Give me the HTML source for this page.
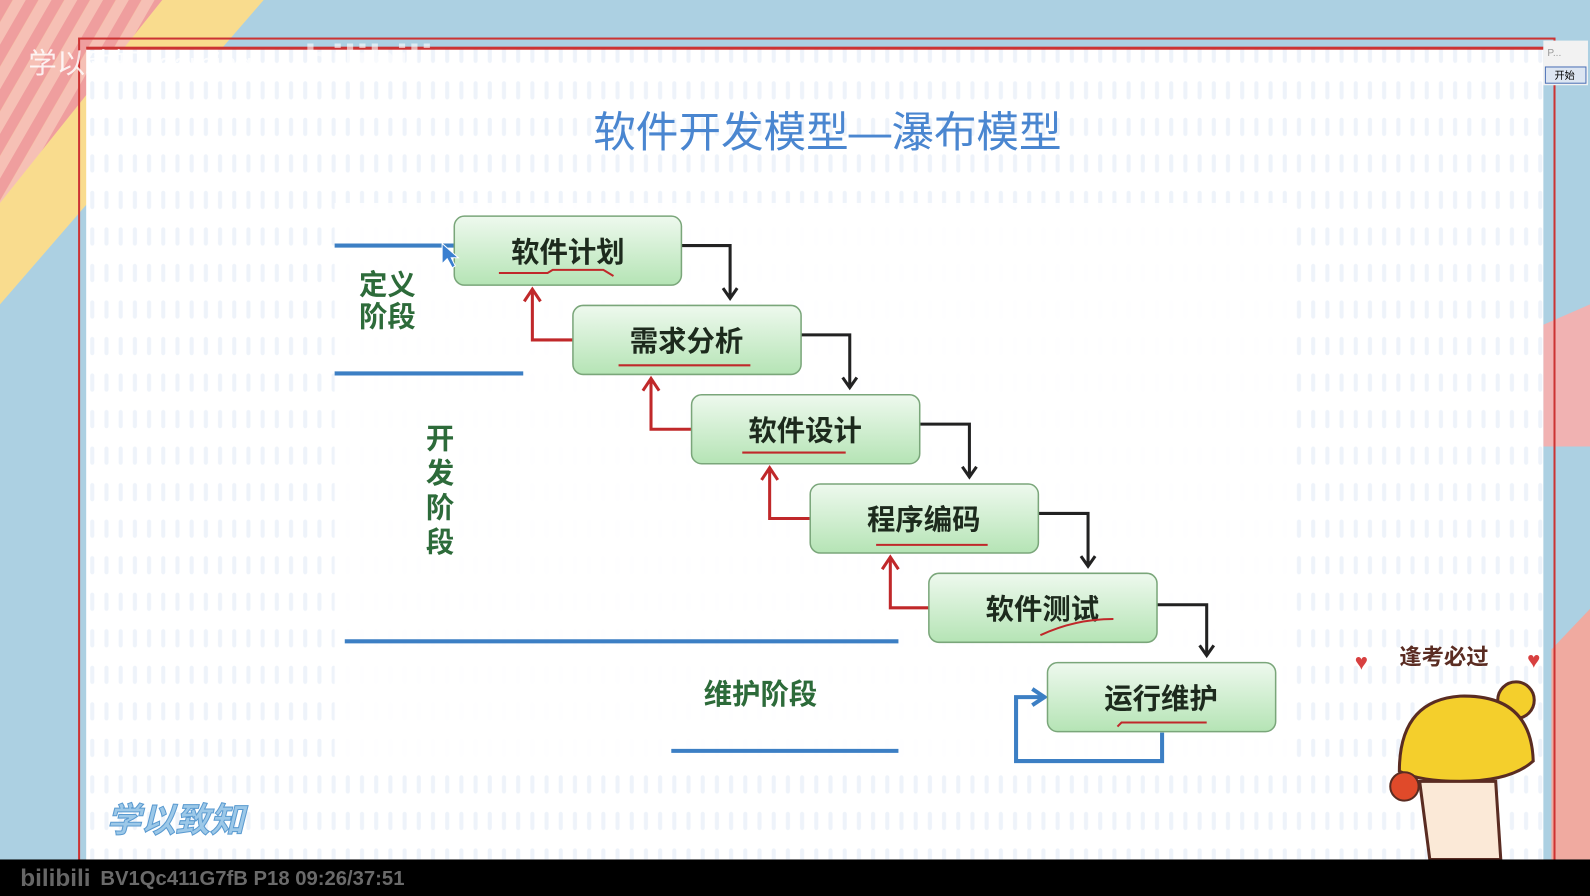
<!DOCTYPE html>
<html><head><meta charset="utf-8"><style>
html,body{margin:0;padding:0;background:#000;overflow:hidden}
svg{display:block}
text{font-family:"Liberation Sans","Noto Sans CJK SC",sans-serif}
</style></head><body>
<svg width="1590" height="896" viewBox="0 0 1568 883" preserveAspectRatio="none" xmlns="http://www.w3.org/2000/svg">
<defs>
<linearGradient id="g" x1="0" y1="0" x2="0" y2="1">
<stop offset="0" stop-color="#eef9ee"/><stop offset="1" stop-color="#b5e4b5"/></linearGradient>
<pattern id="dots" width="14" height="36" patternUnits="userSpaceOnUse">
<rect x="5" y="8" width="4" height="18" rx="2" fill="#eef3fa"/></pattern>
<pattern id="str" width="22" height="22" patternUnits="userSpaceOnUse" patternTransform="rotate(30)">
<rect width="11" height="22" fill="#ef9e9e"/><rect x="11" width="11" height="22" fill="#f6c0b5"/></pattern>
</defs>
<rect width="1568" height="883" fill="#acd0e2"/>
<polygon points="0,0 260,0 0,300" fill="#f9dc8e"/>
<polygon points="0,0 160,0 0,200" fill="url(#str)"/>
<polygon points="1522,320 1568,300 1568,440 1522,440" fill="#f1b2b2"/>
<polygon points="1530,640 1568,600 1568,847 1530,847" fill="#f0aaa0"/>
<rect x="78" y="38" width="1455" height="810" fill="none" stroke="#c33" stroke-width="2"/>
<rect x="85" y="48" width="1437" height="799" fill="#fff"/>
<rect x="85" y="48" width="1437" height="799" fill="url(#dots)"/>
<rect x="330" y="200" width="940" height="560" fill="#fff" opacity="0.9"/>
<rect x="85" y="46" width="1437" height="3" fill="#c33"/>
<rect x="1522" y="40" width="44" height="44" fill="#f2f2f2"/>
<rect x="1524" y="66" width="40" height="16" fill="#dde6f2" stroke="#4a6fb5"/>
<text x="1533" y="78" font-size="10" fill="#000">开始</text>
<text x="1526" y="55" font-size="10" fill="#999">P...</text>
<text x="28" y="72" font-size="28" fill="#fff" opacity="0.85">学以致知Learning</text>
<text x="300" y="75" font-size="44" font-weight="bold" fill="#fff" opacity="0.6">bilibili</text>
<text x="585" y="145" font-size="42" fill="#4a86d0">软件开发模型—瀑布模型</text>
<g stroke="#3c7fc4" stroke-width="4" fill="none">
<line x1="330" y1="242" x2="448" y2="242"/><line x1="330" y1="368" x2="516" y2="368"/>
<line x1="340" y1="632" x2="886" y2="632"/><line x1="662" y1="740" x2="886" y2="740"/>
<path d="M1146,722 V750 H1002 V687 H1028"/><path d="M1018,679 L1030,687 L1018,695"/>
</g>
<g font-size="28" font-weight="bold" fill="#2d6b3a">
<text x="354" y="290">定义</text><text x="354" y="322">阶段</text>
<text x="420" y="442">开</text><text x="420" y="476">发</text><text x="420" y="510">阶</text><text x="420" y="544">段</text>
<text x="694" y="694">维护阶段</text>
</g>
<g stroke="#222" stroke-width="3" fill="none">
<path d="M672,242 H720 V293 M713,284 L720,294 L727,284"/>
<path d="M789,330 H838 V381 M831,372 L838,382 L845,372"/>
<path d="M906,418 H956 V469 M949,460 L956,470 L963,460"/>
<path d="M1023,506 H1073 V557 M1066,548 L1073,558 L1080,548"/>
<path d="M1140,596 H1190 V645 M1183,636 L1190,646 L1197,636"/>
</g>
<g stroke="#c0282a" stroke-width="3" fill="none">
<path d="M565,335 H525 V285 M517,297 L525,285 L533,297"/>
<path d="M682,423 H642 V373 M634,385 L642,373 L650,385"/>
<path d="M799,511 H759 V461 M751,473 L759,461 L767,473"/>
<path d="M916,599 H878 V549 M870,561 L878,549 L886,561"/>
</g>
<g stroke="#7aa67a" stroke-width="1.5" fill="url(#g)">
<rect x="448" y="213" width="224" height="68" rx="10"/>
<rect x="565" y="301" width="225" height="68" rx="10"/>
<rect x="682" y="389" width="225" height="68" rx="10"/>
<rect x="799" y="477" width="225" height="68" rx="10"/>
<rect x="916" y="565" width="225" height="68" rx="10"/>
<rect x="1033" y="653" width="225" height="68" rx="10"/>
</g>
<g font-size="28" font-weight="bold" fill="#1d2a1d" text-anchor="middle">
<text x="560" y="258">软件计划</text><text x="677" y="346">需求分析</text>
<text x="794" y="434">软件设计</text><text x="911" y="522">程序编码</text>
<text x="1028" y="610">软件测试</text><text x="1145" y="698">运行维护</text>
</g>
<g stroke="#c0282a" stroke-width="2" fill="none">
<path d="M492,269 H540 L545,266 H595 L605,272"/><path d="M610,360 H740"/>
<path d="M732,446 H834"/><path d="M864,537 H974"/><path d="M1026,626 Q1060,610 1098,610"/>
<path d="M1102,716 L1106,712 H1190"/>
</g>
<path d="M436,240 V260 L441,255 L446,264 L449,262 L445,254 L452,254 Z" fill="#3a7fd0" stroke="#fff"/>
<text x="1380" y="655" font-size="22" font-weight="bold" fill="#5a2c22">逢考必过</text>
<text x="1336" y="660" font-size="22" fill="#d84040">♥</text><text x="1506" y="658" font-size="22" fill="#d84040">♥</text>
<circle cx="1495" cy="690" r="18" fill="#f4cf2c" stroke="#5a2c22" stroke-width="3"/>
<path d="M1380,760 Q1380,690 1440,686 Q1510,684 1512,750 Q1490,770 1440,770 Q1400,770 1380,760Z" fill="#f4cf2c" stroke="#5a2c22" stroke-width="3"/>
<path d="M1400,770 L1410,847 H1480 L1475,770Z" fill="#fbe9d7" stroke="#5a2c22" stroke-width="3"/>
<circle cx="1385" cy="775" r="14" fill="#e04a2a" stroke="#5a2c22" stroke-width="2"/>
<text x="105" y="820" font-size="34" font-style="italic" font-weight="bold" fill="#9cc8e8" stroke="#5a9ad0" stroke-width="1">学以致知</text>
<rect x="0" y="847" width="1568" height="36" fill="#000"/>
<text x="20" y="873" font-size="24" font-weight="bold" fill="#666">bilibili</text>
<text x="99" y="872" font-size="20" font-weight="bold" fill="#6a6a6a">BV1Qc411G7fB P18 09:26/37:51</text>
</svg>
</body></html>
